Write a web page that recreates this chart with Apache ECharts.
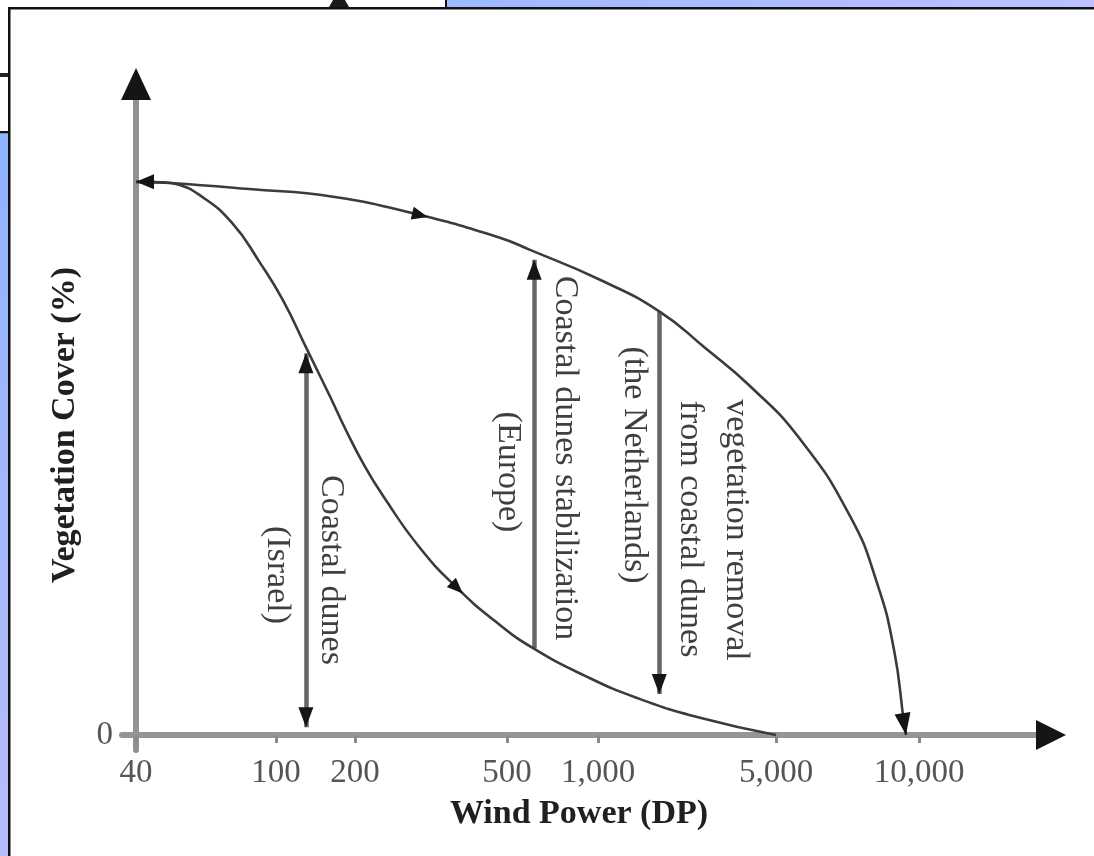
<!DOCTYPE html>
<html>
<head>
<meta charset="utf-8">
<script src="https://cdn.jsdelivr.net/npm/echarts@6/dist/echarts.min.js"></script>
<style>
  html, body { margin: 0; padding: 0; background: #ffffff; }
  #chart { width: 1094px; height: 856px; }
</style>
</head>
<body>
<div id="chart"></div>
<script>
// Wind power (drift potential, DP) ticks on the schematic horizontal axis
const dpTicks = [40, 100, 200, 500, 1000, 5000, 10000];
const dpTickLabels = ['40', '100', '200', '500', '1,000', '5,000', '10,000'];

// Upper branch: vegetation cover (%) against wind power (DP)
const upperDP    = [40, 50, 84, 165, 296, 479, 596, 1018, 1751, 2630, 3950, 5617, 7155, 8157, 8859, 9300, 9390];
const upperCover = [100, 99.8, 98.7, 97.3, 94.0, 89.9, 87.7, 82.3, 76.5, 70.0, 63.1, 53.5, 39.6, 27.5, 15.4, 2.2, 0];

// Lower branch: vegetation cover (%) against wind power (DP)
const lowerDP    = [40, 48, 52, 61, 75, 90, 106, 131, 161, 183, 212, 237, 296, 370, 465, 610, 906, 1423, 2515, 5000];
const lowerCover = [100, 99.9, 99.6, 97.5, 92.6, 85.4, 78.7, 69.8, 61.1, 55.5, 48.6, 43.2, 33.8, 26.6, 20.6, 15.7, 10.7, 6.7, 3.1, 0];

// Vertical arrows: DP position and cover range (%)
const israelArrow      = { dp: 130,  from: 1.4,  to: 69.0 };
const europeArrow      = { dp: 615,  from: 15.7, to: 85.9 };
const netherlandsArrow = { dp: 1740, from: 76.5, to: 7.4 };

// Axis layout: the DP axis is schematic, each tick sits at a fixed slot and
// values between ticks are placed logarithmically within their interval.
const tickSlots = [0, 140, 219, 371, 462, 640, 783];
const X_MIN = -14, X_MAX = 900;
const Y_MIN = -2.71, Y_MAX = 114.8;

const SERIF = '"Liberation Serif", "Times New Roman", serif';

function toSlot(dp) {
  const n = dpTicks.length;
  let i = 0;
  while (i < n - 2 && dp > dpTicks[i + 1]) i++;
  const f = Math.log(dp / dpTicks[i]) / Math.log(dpTicks[i + 1] / dpTicks[i]);
  return tickSlots[i] + f * (tickSlots[i + 1] - tickSlots[i]);
}

const upper = upperDP.map((d, i) => [toSlot(d), upperCover[i]]);
const lower = lowerDP.map((d, i) => [toSlot(d), lowerCover[i]]);

function shaft(a) {
  const x = toSlot(a.dp);
  return { coords: [[x, a.from], [x, a.to]] };
}

function tickLabel(v) {
  let best = 0;
  tickSlots.forEach((s, i) => { if (Math.abs(s - v) < Math.abs(tickSlots[best] - v)) best = i; });
  return dpTickLabels[best];
}

function note(text, x, y) {
  return {
    type: 'text', x: x, y: y, rotation: -Math.PI / 2, z: 20,
    style: {
      text: text, font: '34px ' + SERIF, fill: '#3f3f3f',
      align: 'center', verticalAlign: 'middle',
      textAlign: 'center', textVerticalAlign: 'middle'
    }
  };
}

// Surrounding window frame
const frame = [
  { type: 'rect', z: -10, shape: { x: 447, y: 0, width: 647, height: 8 },
    style: { fill: new echarts.graphic.LinearGradient(0, 0, 1, 0, [
      { offset: 0, color: '#9db8ff' }, { offset: 1, color: '#bcc0ff' }]) } },
  { type: 'rect', z: -10, shape: { x: 0, y: 134, width: 8, height: 722 },
    style: { fill: new echarts.graphic.LinearGradient(0, 0, 0, 1, [
      { offset: 0, color: '#8fb3ff' }, { offset: 1, color: '#b8bdfc' }]) } },
  { type: 'rect', z: -9, shape: { x: 8, y: 7, width: 1086, height: 2.5 }, style: { fill: '#111' } },
  { type: 'rect', z: -9, shape: { x: 445, y: 0, width: 2, height: 8 }, style: { fill: '#111' } },
  { type: 'rect', z: -9, shape: { x: 8, y: 7, width: 2.5, height: 849 }, style: { fill: '#111' } },
  { type: 'rect', z: -9, shape: { x: 0, y: 131, width: 9, height: 2.5 }, style: { fill: '#111' } },
  { type: 'rect', z: -9, shape: { x: 0, y: 73, width: 8, height: 4 }, style: { fill: '#222' } },
  { type: 'polygon', z: -9, shape: { points: [[333, 0], [345, 0], [349, 7], [329, 7]] }, style: { fill: '#1a1a1a' } }
];

const chart = echarts.init(document.getElementById('chart'), null, { renderer: 'canvas' });

const option = {
  backgroundColor: '#ffffff',
  animation: false,
  grid: { left: 122, right: 58, top: 100, bottom: 106, containLabel: false, outerBoundsMode: 'none' },
  xAxis: {
    type: 'value', min: X_MIN, max: X_MAX,
    axisLine: { show: true, onZero: true, lineStyle: { color: '#959595', width: 6 } },
    axisTick: { show: true, customValues: tickSlots, length: 8, inside: false,
      lineStyle: { color: '#8a8a8a', width: 3 } },
    axisLabel: { show: true, customValues: tickSlots, formatter: tickLabel, margin: 7,
      fontFamily: SERIF, fontSize: 33, color: '#555555' },
    splitLine: { show: false },
    name: 'Wind Power (DP)', nameLocation: 'middle', nameGap: 47,
    nameTextStyle: { fontFamily: SERIF, fontSize: 34, fontWeight: 'bold', color: '#202020' }
  },
  yAxis: {
    type: 'value', min: Y_MIN, max: Y_MAX,
    axisLine: { show: true, onZero: true, lineStyle: { color: '#929292', width: 6 } },
    axisTick: { show: false },
    axisLabel: { show: true, customValues: [0], formatter: () => '0', margin: 9,
      fontFamily: SERIF, fontSize: 33, color: '#555555' },
    splitLine: { show: false },
    name: 'Vegetation Cover (%)', nameLocation: 'middle', nameRotate: 90, nameGap: 40,
    nameTextStyle: { fontFamily: SERIF, fontSize: 34, fontWeight: 'bold', color: '#202020' }
  },
  series: [
    { type: 'line', name: 'upper', data: upper, smooth: 0.5, showSymbol: false, symbol: 'none',
      lineStyle: { color: '#3b3b3b', width: 2.6 }, z: 3, silent: true },
    { type: 'line', name: 'lower', data: lower, smooth: 0.5, showSymbol: false, symbol: 'none',
      lineStyle: { color: '#3b3b3b', width: 2.6 }, z: 3, silent: true },
    { type: 'lines', name: 'shafts', coordinateSystem: 'cartesian2d', polyline: false,
      data: [shaft(israelArrow), shaft(europeArrow), shaft(netherlandsArrow)],
      lineStyle: { color: '#666666', width: 4.5, opacity: 1, curveness: 0 },
      symbol: 'none', z: 3, silent: true }
  ],
  graphic: frame.concat([
    note('Coastal dunes', 331, 570),
    note('(Israel)', 277, 575),
    note('Coastal dunes stabilization', 565, 458),
    note('(Europe)', 508, 472),
    note('(the Netherlands)', 634, 465),
    note('from coastal dunes', 690, 529),
    note('vegetation removal', 736, 530)
  ])
};
chart.setOption(option);

// Arrowheads, oriented in screen space once the axes are laid out
const px = p => chart.convertToPixel({ gridIndex: 0 }, p);
function dirBetween(a, b) {
  const pa = px(a), pb = px(b);
  const dx = pb[0] - pa[0], dy = pb[1] - pa[1];
  const L = Math.hypot(dx, dy) || 1;
  return [dx / L, dy / L];
}
function head(point, dir, w, h, anchor) {
  const rot = Math.atan2(-dir[1], dir[0]) * 180 / Math.PI - 90;
  const k = anchor === 'tip' ? -h / 2 : (anchor === 'base' ? h / 2 : 0);
  return { value: point, symbolSize: [w, h], symbolRotate: rot, symbolOffset: [dir[0] * k, dir[1] * k] };
}

const uMid = upperDP.indexOf(296);
const lMid = lowerDP.indexOf(370);
const uEnd = upper.length - 1;
const heads = [
  head([0, Y_MAX], [0, -1], 30, 32, 'base'),
  head([X_MAX, 0], [1, 0], 30, 30, 'base'),
  head(upper[0], [-1, 0], 15, 18, 'tip'),
  head(upper[uMid], dirBetween(upper[uMid - 1], upper[uMid + 1]), 13, 16, 'center'),
  head(upper[uEnd], dirBetween(upper[uEnd - 1], upper[uEnd]), 16, 22, 'tip'),
  head(lower[lMid], dirBetween(lower[lMid - 1], lower[lMid + 1]), 13, 16, 'center'),
  head([toSlot(israelArrow.dp), israelArrow.to], [0, -1], 15, 20, 'tip'),
  head([toSlot(israelArrow.dp), israelArrow.from], [0, 1], 15, 20, 'tip'),
  head([toSlot(europeArrow.dp), europeArrow.to], [0, -1], 15, 20, 'tip'),
  head([toSlot(netherlandsArrow.dp), netherlandsArrow.to], [0, 1], 15, 20, 'tip')
];

chart.setOption({
  series: [
    {}, {}, {},
    { type: 'scatter', name: 'heads', data: heads, symbol: 'triangle', clip: false, silent: true,
      itemStyle: { color: '#151515', opacity: 1 }, z: 6 }
  ]
});
</script>
</body>
</html>
